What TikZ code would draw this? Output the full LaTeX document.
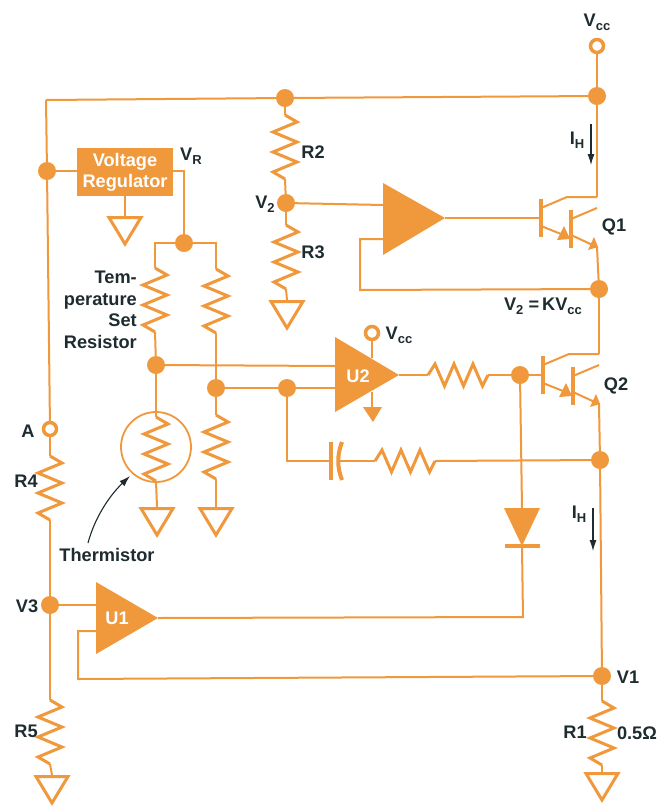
\documentclass[tikz,border=0pt]{standalone}
\usepackage{fontspec}
\setmainfont{Liberation Sans}
\usetikzlibrary{arrows.meta}
\definecolor{org}{HTML}{F0983C}
\definecolor{ink}{HTML}{1E2C30}
\newcommand\Sub[2]{#1\raisebox{-0.22em}{\fontsize{13}{14}\selectfont #2}}
% vertical resistor: name, x, top y
\newcommand\vzig[3]{%
  \coordinate (#1-t) at (#2,#3);
  \coordinate (#1-b) at (#2,#3+64);
  \draw[res] (#1-t) -- ++(12,7) -- ++(-24,10) -- ++(24,10) -- ++(-24,10) -- ++(24,10) -- ++(-24,10) -- (#1-b);}
% horizontal resistor: name, left x, y
\newcommand\hzig[3]{%
  \coordinate (#1-l) at (#2,#3);
  \coordinate (#1-r) at (#2+60,#3);
  \draw[res] (#1-l) -- ++(7,-11) -- ++(9.5,22) -- ++(9.5,-22) -- ++(9.5,22) -- ++(9.5,-22) -- ++(9.5,22) -- (#1-r);}
% ground: name, x, top y
\newcommand\gnd[3]{%
  \coordinate (#1) at (#2,#3);
  \draw[gtri] (#2-16,#3+1.5) -- (#2+16,#3+1.5) -- (#2,#3+28) -- cycle;}
% transistor: name, base x, base y
\newcommand\trans[3]{%
  \begin{scope}[shift={(#2,#3)}]
    \coordinate (#1b) at (0,0);
    \coordinate (#1c) at (56,-21);
    \coordinate (#1e) at (56,29);
    \draw[bar] (0,-19) -- (0,19);
    \draw[bar] (30,-8) -- (30,30);
    \draw[wire] (0,-10) -- (26,-21) -- (#1c);
    \draw[wire] (30,1) -- (56,-10);
    \draw[wire] (0,8) -- (30,20);
    \draw[wire] (30,17) -- (#1e);
    \fill[org] (29,21) -- (16,22) -- (23,8) -- cycle;
    \fill[org] (57,29) -- (47,32) -- (53,19) -- cycle;
  \end{scope}}
\tikzset{
  wire/.style={draw=org,line width=2pt,line join=miter},
  res/.style={draw=org,line width=3pt,line join=miter,line cap=butt},
  bar/.style={draw=org,line width=4pt},
  gtri/.style={draw=org,line width=3pt,line join=miter,fill=white},
  dot/.style={circle,fill=org,inner sep=0pt,minimum size=18pt},
  opendot/.style={circle,draw=org,line width=3.5pt,fill=white,inner sep=0pt,minimum size=13pt},
  lbl/.style={text=ink,font=\fontsize{18.2}{21}\selectfont\bfseries,inner sep=0pt},
  wlbl/.style={text=white,font=\fontsize{18.2}{21}\selectfont\bfseries,inner sep=0pt},
  note/.style={draw=ink,line width=1.1pt,-{Latex[length=11pt,width=7pt]}},
}
\begin{document}
\begin{tikzpicture}[x=1pt,y=-1pt]
\useasboundingbox (0,0) rectangle (665,807);
\fill[white] (0,0) rectangle (665,807);

% --- junctions and terminals
\node[opendot] (vcc) at (597,46) {};
\node[dot] (top) at (597,96) {};
\node[dot] (tm) at (285,98) {};
\node[dot] (lreg) at (47,171) {};
\node[opendot] (a) at (50,429) {};
\node[dot] (v3) at (50,605) {};
\node[dot] (v2n) at (286,203) {};
\node[dot] (vr) at (184,243) {};
\node[dot] (ts) at (156,365) {};
\node[dot] (d1) at (216,388) {};
\node[dot] (d2) at (287,388) {};
\node[dot] (fb) at (599,289) {};
\node[dot] (bq2) at (520,375) {};
\node[dot] (fbr) at (600,460) {};
\node[dot] (v1) at (602,676) {};
\node[opendot] (vcc2) at (372,333) {};
\coordinate (corner) at (46,100);

% --- top rail and left rail
\draw[wire] (vcc) -- (top);
\draw[wire] (corner) -- (tm) -- (top);
\draw[wire] (corner) -- (lreg) -- (a);

% --- voltage regulator
\node[fill=org,minimum width=96pt,minimum height=48pt,inner sep=0pt] (reg) at (125,172) {};
\node[wlbl] (reg1) at (125,161.5) {Voltage};
\node[wlbl] (reg2) at (125,183) {Regulator};
\draw[wire] (lreg) -- (lreg-|reg.west);
\gnd{g-reg}{125}{216}
\draw[wire] (reg.south) -- (g-reg);
\coordinate (regout) at (184,171);
\draw[wire] (regout-|reg.east) -- (regout) -- (vr);

% --- bridge
\vzig{rt}{155}{268}
\vzig{rb}{216}{269}
\coordinate (vrl) at (155,243);
\coordinate (vrr) at (216,243);
\draw[wire] (rt-t) -- (vrl) -- (vr) -- (vrr) -- (rb-t);
\draw[wire] (rt-b) -- (ts);
\draw[wire] (rb-b) -- (d1);
\vzig{rth}{156}{417}
\draw[wire] (ts) -- (rth-t);
\node[circle,draw=org,line width=1.8pt,minimum size=70pt,inner sep=0pt] (thc) at (156,447) {};
\gnd{g-th}{157}{507}
\draw[wire] (rth-b) -- (g-th);
\vzig{rl}{216}{415}
\draw[wire] (d1) -- (rl-t);
\gnd{g-rl}{216}{507}
\draw[wire] (rl-b) -- (g-rl);

% --- R2 R3 divider
\vzig{r2}{285}{115}
\draw[wire] (tm) -- (r2-t);
\draw[wire] (r2-b) -- (v2n);
\vzig{r3}{286}{225}
\draw[wire] (v2n) -- (r3-t);
\gnd{g-r3}{287}{300}
\draw[wire] (r3-b) -- (g-r3);

% --- upper amplifier and Q1
\coordinate (ampin) at (383,205);
\coordinate (ampfb) at (383,239);
\coordinate (ampout) at (445,218);
\fill[org] (383,183) -- (ampout) -- (383,255) -- cycle;
\draw[wire] (v2n) -- (ampin);
\trans{qa}{541}{218}
\draw[wire] (ampout) -- (qab);
\draw[wire] (top) -- (qac);
\draw[wire] (qae) -- (fb);
\coordinate (fba) at (360,239);
\coordinate (fbb) at (360,290);
\draw[wire] (ampfb) -- (fba) -- (fbb) -- (fb);

% --- U2 and Q2
\coordinate (u2a) at (335,366);
\coordinate (u2b) at (335,388);
\coordinate (u2o) at (399,375);
\fill[org] (335,337) -- (u2o) -- (335,412) -- cycle;
\draw[wire] (ts) -- (u2a);
\draw[wire] (d1) -- (d2) -- (u2b);
\draw[wire] (vcc2) -- (372,358);
\draw[wire] (372,392) -- (372,410);
\fill[org] (363,407) -- (382,407) -- (373,422) -- cycle;
\hzig{rs}{428}{375}
\draw[wire] (u2o) -- (rs-l);
\trans{qb}{543}{375}
\draw[wire] (rs-r) -- (bq2) -- (qbb);
\draw[wire] (fb) -- (qbc);
\draw[wire] (qbe) -- (fbr);

% --- RC feedback
\coordinate (cc) at (287,461);
\coordinate (capl) at (331,461);
\coordinate (capr) at (338,461);
\draw[wire] (d2) -- (cc) -- (capl);
\draw[bar] (331,442) -- (331,480);
\draw[draw=org,line width=4pt] (342,442) .. controls (337,455) and (337,467) .. (342,480);
\hzig{rf}{375}{461}
\draw[wire] (capr) -- (rf-l);
\draw[wire] (rf-r) -- (fbr);

% --- diode
\coordinate (dt) at (522,508);
\coordinate (dk) at (522,546);
\fill[org] (504,508) -- (540,508) -- (dk) -- cycle;
\draw[draw=org,line width=3.5pt] (505,546) -- (540,546);
\draw[wire] (bq2) -- (dt);

% --- U1
\coordinate (u1a) at (96,605);
\coordinate (u1b) at (96,631);
\coordinate (u1o) at (158,618);
\fill[org] (96,582) -- (u1o) -- (96,654) -- cycle;
\coordinate (dout) at (523,617);
\draw[wire] (dk) -- (dout) -- (u1o);
\draw[wire] (v3) -- (u1a);
\coordinate (fc1) at (78,631);
\coordinate (fc2) at (78,679);
\draw[wire] (u1b) -- (fc1) -- (fc2) -- (v1);
\draw[wire] (fbr) -- (v1);

% --- R4 R5 R1
\vzig{r4}{50}{456}
\draw[wire] (a) -- (r4-t);
\draw[wire] (r4-b) -- (v3);
\vzig{r5}{50}{700}
\draw[wire] (v3) -- (r5-t);
\gnd{g-r5}{52}{775}
\draw[wire] (r5-b) -- (g-r5);
\vzig{r1}{602}{701}
\draw[wire] (v1) -- (r1-t);
\gnd{g-r1}{602}{772}
\draw[wire] (r1-b) -- (g-r1);

% --- labels
\node[lbl] (l-vcc) at (597,22) {\Sub{V}{cc}};
\node[lbl] (l-vcc2) at (399,335) {\Sub{V}{cc}};
\node[lbl] (l-vr) at (191,156) {\Sub{V}{R}};
\node[lbl] (l-ih1) at (577,140) {\Sub{I}{H}};
\node[lbl] (l-ih2) at (579,514) {\Sub{I}{H}};
\node[lbl] (l-r2) at (313,152) {R2};
\node[lbl] (l-v2) at (265,204) {\Sub{V}{2}};
\node[lbl] (l-r3) at (313,252) {R3};
\node[lbl] (l-q1) at (614,227) {Q1};
\node[lbl] (l-q2) at (616,386) {Q2};
\node[lbl] (l-k) at (543,306) {\Sub{V}{2} =\,K\Sub{V}{cc}};
\node[wlbl] (l-u2) at (358,376) {U2};
\node[wlbl] (l-u1) at (117,618) {U1};
\node[lbl] (l-a) at (28,431) {A};
\node[lbl] (l-r4) at (26,481) {R4};
\node[lbl] (l-v3) at (27,606) {V3};
\node[lbl] (l-r5) at (26,731) {R5};
\node[lbl] (l-v1) at (628,677) {V1};
\node[lbl] (l-r1) at (575,732) {R1};
\node[lbl] (l-om) at (637,733) {0.5Ω};
\node[lbl,align=right,font=\fontsize{18.2}{21.5}\selectfont\bfseries,anchor=east] (l-ts) at (137,310) {Tem-\\perature\\Set\\Resistor};
\node[lbl] (l-th) at (107,555) {Thermistor};

% --- note arrows
\coordinate (ih1a) at (591,124);
\coordinate (ih1b) at (591,165);
\draw[note] (ih1a) -- (ih1b);
\coordinate (ih2a) at (593,508);
\coordinate (ih2b) at (593,551);
\draw[note] (ih2a) -- (ih2b);
\coordinate (tharr) at (88,543);
\draw[note] (tharr) .. controls (94,520) and (108,497) .. (130,476);
\end{tikzpicture}
\end{document}
